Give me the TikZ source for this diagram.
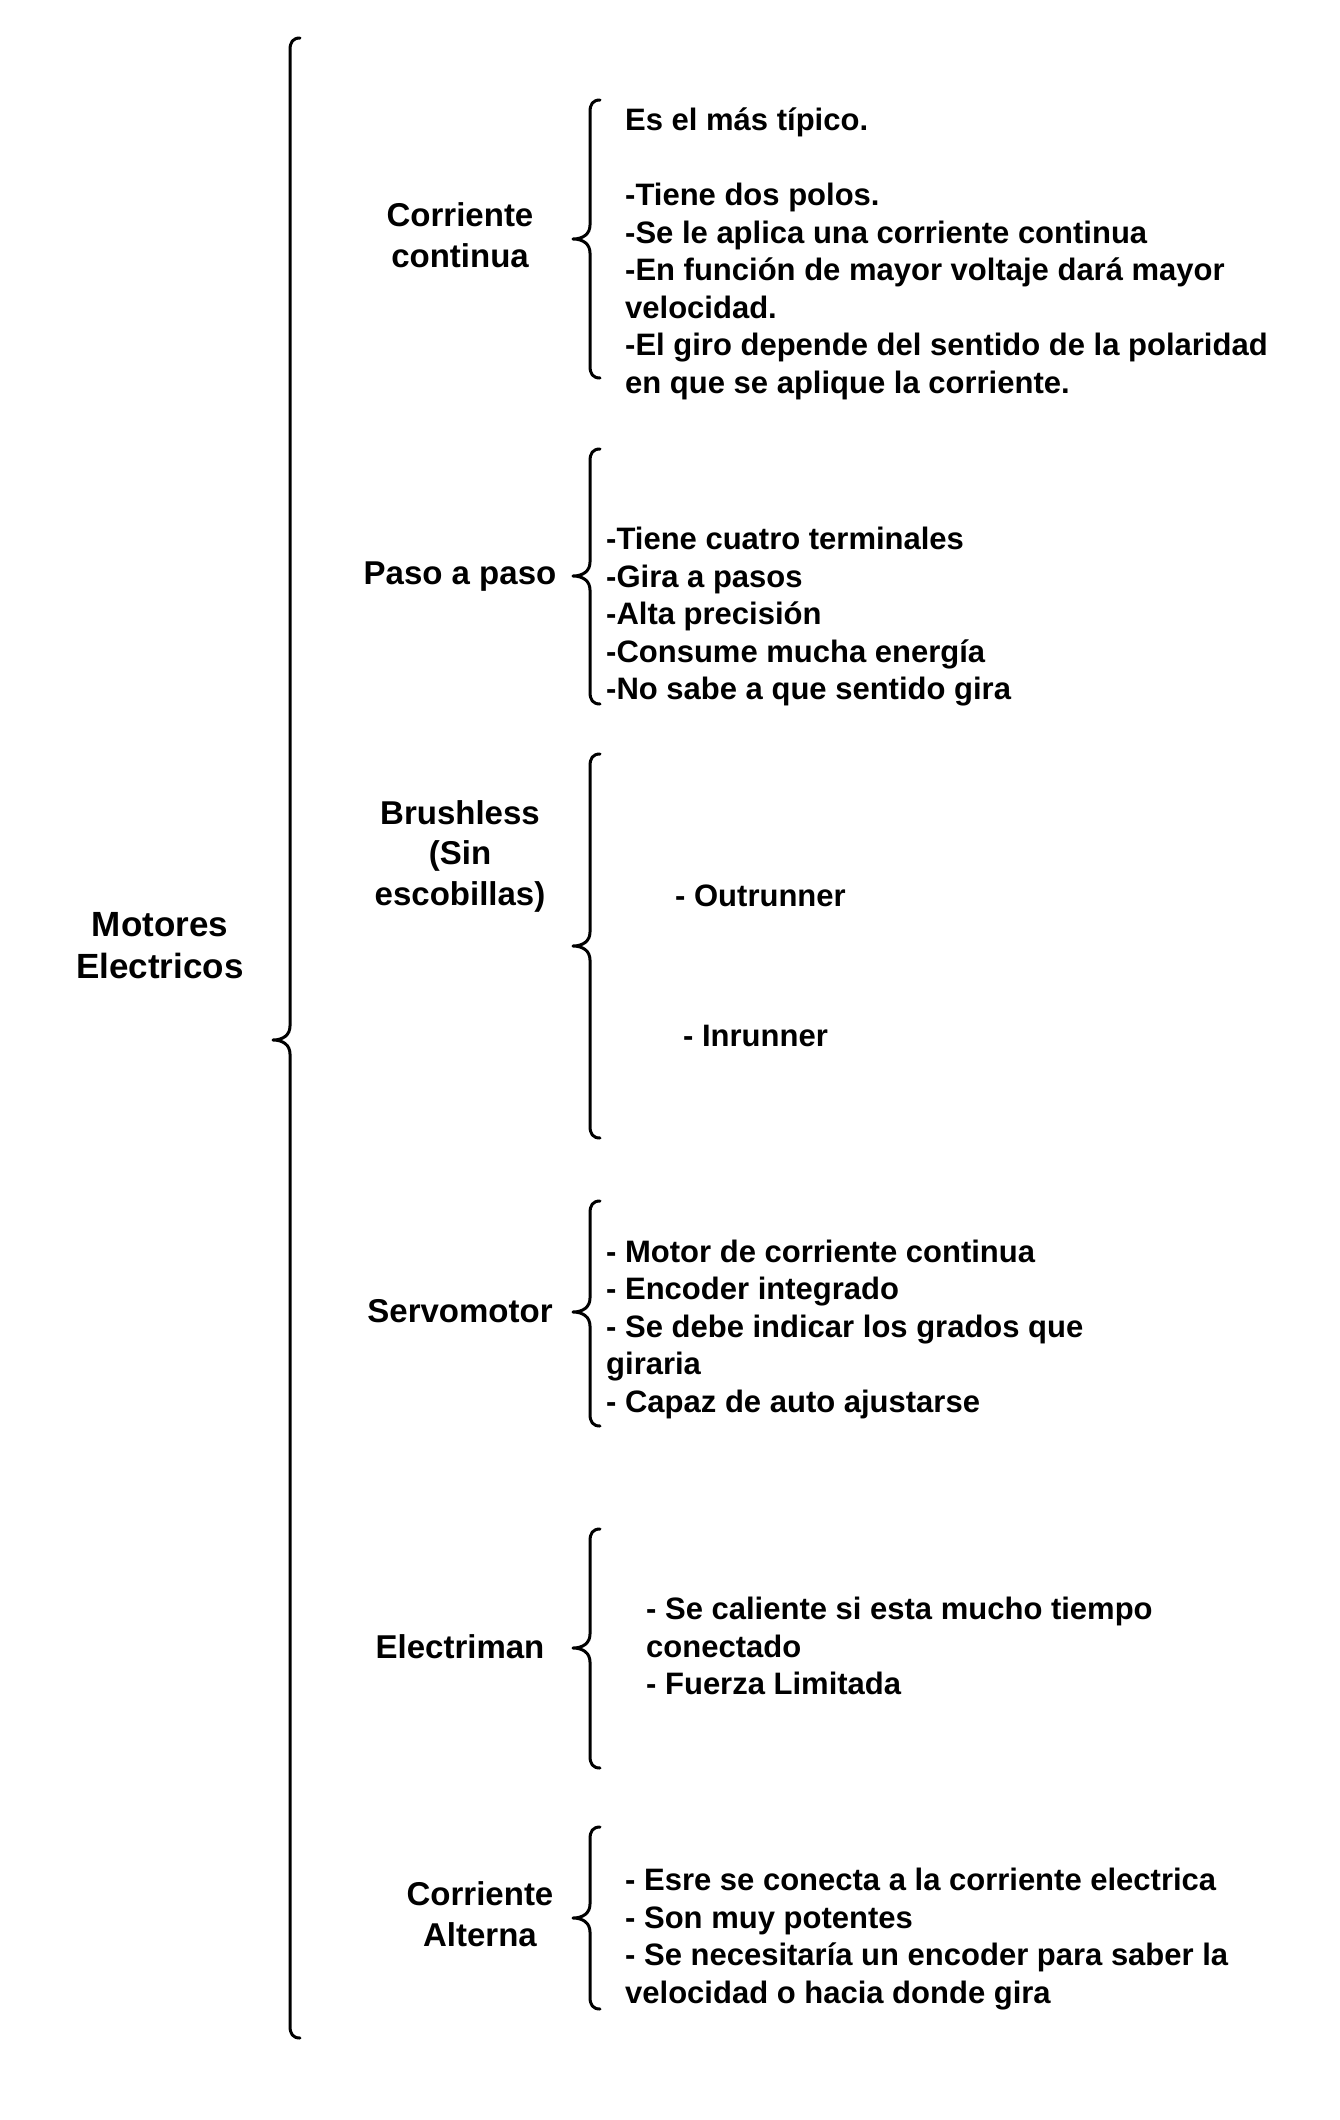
\documentclass[tikz,border=0pt]{standalone}
\usepackage{fontspec}
\setmainfont{Liberation Sans}
\newcommand\mybrace[4]{% x, top, mid, bottom
  \draw[bracestyle] (#1+10,#2) .. controls (#1+3,#2) and (#1,#2+4) .. (#1,#2+12)
    -- (#1,#3-14) .. controls (#1,#3-5) and (#1-7,#3) .. (#1-17,#3)
    .. controls (#1-7,#3) and (#1,#3+5) .. (#1,#3+14)
    -- (#1,#4-12) .. controls (#1,#4-4) and (#1+3,#4) .. (#1+10,#4);}
\begin{document}
\begin{tikzpicture}[x=1pt,y=-1pt,
  bracestyle/.style={line width=3pt,line cap=round,line join=round},
  mainlabel/.style={inner sep=0pt,align=center,font=\fontsize{35}{42}\selectfont\bfseries},
  sublabel/.style={inner sep=0pt,align=center,font=\fontsize{33}{40.5}\selectfont\bfseries},
  items/.style={inner sep=0pt,align=left,anchor=west,font=\fontsize{31}{37.5}\selectfont\bfseries}]
\fill[white] (0,0) rectangle (1340,2120);
\useasboundingbox (0,0) rectangle (1340,2120);

% braces
\mybrace{290}{38}{1040}{2038}
\mybrace{590}{100}{239}{378}
\mybrace{590}{449}{576}{704}
\mybrace{590}{754}{946}{1138}
\mybrace{590}{1201}{1312}{1426}
\mybrace{590}{1529}{1648}{1768}
\mybrace{590}{1827}{1918}{2009}

% labels
\node[mainlabel] (main) at (160,946) {Motores\\Electricos};
\node[sublabel] (cc) at (460,235) {Corriente\\continua};
\node[sublabel] (pp) at (460,577) {Paso a paso};
\node[sublabel] (bl) at (460,856) {Brushless\\(Sin\\escobillas)};
\node[sublabel] (sm) at (460,1311) {Servomotor};
\node[sublabel] (em) at (460,1647) {Electriman};
\node[sublabel] (ca) at (480,1914) {Corriente\\Alterna};

% items
\node[items] (ccitems) at (625,254) {Es el más típico.\\\strut\\-Tiene dos polos.\\-Se le aplica una corriente continua\\-En función de mayor voltaje dará mayor\\velocidad.\\-El giro depende del sentido de la polaridad\\en que se aplique la corriente.};
\node[items] (ppitems) at (606,617) {-Tiene cuatro terminales\\-Gira a pasos\\-Alta precisión\\-Consume mucha energía\\-No sabe a que sentido gira};
\node[items] (blout) at (675,896) {- Outrunner};
\node[items] (blin) at (683,1036) {- Inrunner};
\node[items] (smitems) at (606,1329) {- Motor de corriente continua\\- Encoder integrado\\- Se debe indicar los grados que\\giraria\\- Capaz de auto ajustarse};
\node[items] (emitems) at (646,1646) {- Se caliente si esta mucho tiempo\\conectado\\- Fuerza Limitada};
\node[items] (caitems) at (625,1939) {- Esre se conecta a la corriente electrica\\- Son muy potentes\\- Se necesitaría un encoder para saber la\\velocidad o hacia donde gira};
\end{tikzpicture}
\end{document}
